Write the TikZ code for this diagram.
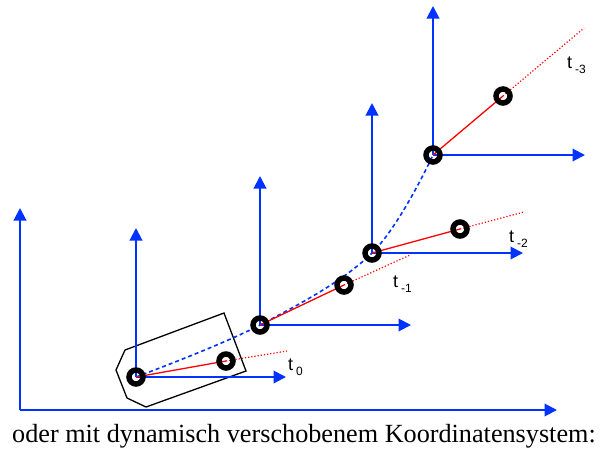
\documentclass[tikz,border=0pt]{standalone}
\usepackage{fontspec}
\setmainfont{Liberation Serif}
\setsansfont{Liberation Sans}
\usetikzlibrary{arrows.meta}
\definecolor{axblue}{RGB}{0,51,255}

\newcommand{\tlab}[1]{t\,\raisebox{-5pt}{\fontsize{12}{12}\selectfont #1}}

\begin{document}
\begin{tikzpicture}[
  x=1pt,y=-1pt,
  axis/.style={draw=axblue,line width=2pt,-{Triangle[length=12.5pt,width=12.5pt]}},
  link/.style={red,line width=1.3pt},
  ext/.style={red,line width=1.2pt,dotted},
  track/.style={axblue,line width=1.6pt,dash pattern=on 4pt off 3pt},
  ring/.style={circle,draw,line width=5.5pt,minimum size=14pt,inner sep=0pt},
  tlabel/.style={font=\sffamily\fontsize{18}{18}\selectfont,inner sep=0pt,anchor=base west},
  body/.style={draw,line width=1.3pt}
]
\useasboundingbox (0,0) rectangle (601,455);

% feste Achsen
\coordinate (O) at (20,410);
\coordinate (Oy) at (20,208);
\coordinate (Ox) at (557,410);

% mitbewegte Koordinatensysteme
\coordinate (f0) at (136,377);
\coordinate (f1) at (260,325);
\coordinate (f2) at (372,253);
\coordinate (f3) at (433,155);
\coordinate (fy0) at (136,228);
\coordinate (fy1) at (260,176);
\coordinate (fy2) at (372,103);
\coordinate (fy3) at (433,6);
\coordinate (fx0) at (286,377);
\coordinate (fx1) at (411,325);
\coordinate (fx2) at (523,253);
\coordinate (fx3) at (585,155);

% Vorderraeder und Verlaengerungen
\coordinate (w0) at (226,361);
\coordinate (w1) at (344,285);
\coordinate (w2) at (460,229);
\coordinate (w3) at (503,96);
\coordinate (e0) at (287,351);
\coordinate (e1) at (410,255);
\coordinate (e2) at (524,212);
\coordinate (e3) at (584,28);

\draw[body] (116,370) -- (125,350) -- (224,313) -- (246,371) -- (146,407) -- (127,398) -- cycle;

\draw[track] plot[smooth,tension=0.6] coordinates {(136,377) (260,325) (372,253) (433,155)};

\draw[axis] (O)--(Oy);
\draw[axis] (O)--(Ox);
\foreach \i in {0,1,2,3}{
  \draw[axis] (f\i)--(fy\i);
  \draw[axis] (f\i)--(fx\i);
  \draw[link] (f\i)--(w\i);
  \draw[ext] (w\i)--(e\i);
}

\foreach \i in {0,1,2,3}{
  \node[ring] (rf\i) at (f\i) {};
  \node[ring] (rw\i) at (w\i) {};
}

\node[tlabel] (t0) at (288,370) {\tlab{0}};
\node[tlabel] (t1) at (393,287) {\tlab{-1}};
\node[tlabel] (t2) at (509,242) {\tlab{-2}};
\node[tlabel] (t3) at (567,68) {\tlab{-3}};

\node[anchor=base west,inner sep=0pt,font=\fontsize{26.2}{32}\selectfont] (cap) at (12,442) {oder mit dynamisch verschobenem Koordinatensystem:};
\end{tikzpicture}
\end{document}
